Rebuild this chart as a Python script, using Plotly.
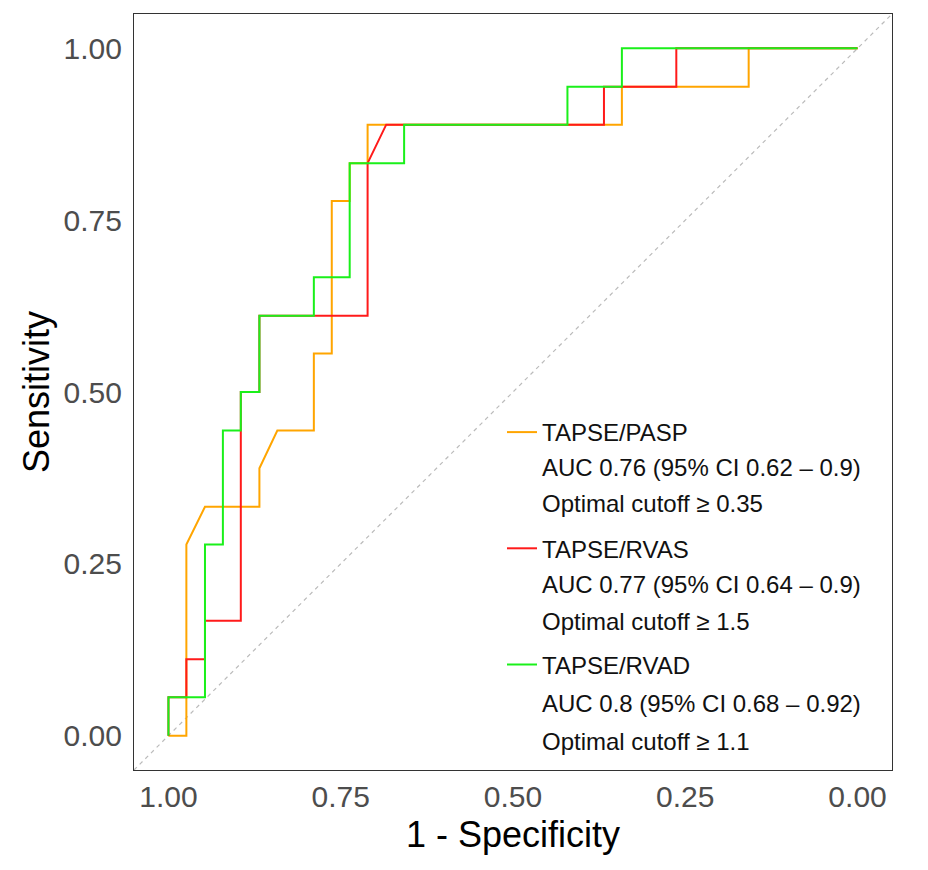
import plotly.graph_objects as go

# ---------------- data ----------------
series_names = ["TAPSE/PASP", "TAPSE/RVAS", "TAPSE/RVAD"]
series_colors = ["#FFA500", "#FF1A1A", "#1AF01A"]

spec_pasp = [1.000, 0.974, 0.974, 0.947, 0.868, 0.868, 0.842, 0.789, 0.789, 0.763,
             0.763, 0.737, 0.737, 0.711, 0.711, 0.342, 0.342, 0.158, 0.158, 0.000]
sens_pasp = [0.000, 0.000, 0.278, 0.333, 0.333, 0.389, 0.444, 0.444, 0.556, 0.556,
             0.778, 0.778, 0.833, 0.833, 0.889, 0.889, 0.944, 0.944, 1.000, 1.000]

spec_rvas = [1.000, 1.000, 0.974, 0.974, 0.947, 0.947, 0.895, 0.895, 0.868, 0.868,
             0.711, 0.711, 0.684, 0.368, 0.368, 0.263, 0.263, 0.000]
sens_rvas = [0.000, 0.056, 0.056, 0.111, 0.111, 0.167, 0.167, 0.500, 0.500, 0.611,
             0.611, 0.833, 0.889, 0.889, 0.944, 0.944, 1.000, 1.000]

spec_rvad = [1.000, 1.000, 0.947, 0.947, 0.921, 0.921, 0.895, 0.895, 0.868, 0.868,
             0.789, 0.789, 0.737, 0.737, 0.658, 0.658, 0.421, 0.421, 0.342, 0.342, 0.000]
sens_rvad = [0.000, 0.056, 0.056, 0.278, 0.278, 0.444, 0.444, 0.500, 0.500, 0.611,
             0.611, 0.667, 0.667, 0.833, 0.833, 0.889, 0.889, 0.944, 0.944, 1.000, 1.000]

auc_labels = ["AUC 0.76 (95% CI 0.62 \u2013 0.9)",
              "AUC 0.77 (95% CI 0.64 \u2013 0.9)",
              "AUC 0.8 (95% CI 0.68 \u2013 0.92)"]
cutoff_labels = ["Optimal cutoff \u2265 0.35",
                 "Optimal cutoff \u2265 1.5",
                 "Optimal cutoff \u2265 1.1"]

tick_vals = [1.00, 0.75, 0.50, 0.25, 0.00]
tick_text = ["1.00", "0.75", "0.50", "0.25", "0.00"]

# ---------------- figure ----------------
FONT = "Liberation Sans, Arial, Helvetica, sans-serif"
PAGE_OFFSET = 8                      # default body margin of the html page
W, H = 928 - PAGE_OFFSET, 870 - PAGE_OFFSET
L, R, T, B = 134 - PAGE_OFFSET, 36, 14 - PAGE_OFFSET, 100
PX0, PX1, PY0, PY1 = 134, 892, 14, 770   # plot panel in page pixels
plot_w = PX1 - PX0
plot_h = PY1 - PY0


def paper_x(px):
    return (px - PX0) / plot_w


def paper_y(py):
    return (PY1 - py) / plot_h


fig = go.Figure()

xs = [spec_pasp, spec_rvas, spec_rvad]
ys = [sens_pasp, sens_rvas, sens_rvad]
for name, color, x, y in zip(series_names, series_colors, xs, ys):
    fig.add_trace(go.Scatter(
        x=x, y=y, mode="lines", name=name, legendgroup=name,
        line=dict(color=color, width=2),
        hoverinfo="skip",
    ))

# chance diagonal (panel corner to corner)
fig.add_shape(type="line", xref="paper", yref="paper", x0=0, y0=0, x1=1, y1=1,
              line=dict(color="#BBBBBB", width=1.2, dash="4px,4px"), layer="below")

# extra legend text lines
auc_py = [467.5, 584, 703]
cut_py = [503.5, 621, 741]
for txt, py in zip(auc_labels + cutoff_labels, auc_py + cut_py):
    fig.add_annotation(x=paper_x(540), y=paper_y(py), xref="paper", yref="paper",
                       text=txt, showarrow=False, xanchor="left", yanchor="middle",
                       font=dict(family=FONT, size=24, color="#111111"))

axis_common = dict(
    showgrid=False, zeroline=False, showline=True, mirror=True,
    linecolor="#333333", linewidth=1.3, ticks="",
    tickfont=dict(family=FONT, size=30, color="#4D4D4D"),
    tickvals=tick_vals, ticktext=tick_text,
    automargin=False,
)

fig.update_layout(
    width=W, height=H,
    margin=dict(l=L, r=R, t=T, b=B),
    paper_bgcolor="white", plot_bgcolor="white",
    font=dict(family=FONT),
    xaxis=dict(range=[1.05, -0.05], ticklabelstandoff=0,
               title=dict(text="1 - Specificity", standoff=9,
                          font=dict(family=FONT, size=36, color="#000000")),
               **axis_common),
    yaxis=dict(range=[-0.05, 1.05], ticklabelstandoff=5,
               title=dict(text="Sensitivity", standoff=2,
                          font=dict(family=FONT, size=36, color="#000000")),
               **axis_common),
    showlegend=True,
    legend=dict(
        x=paper_x(502), xanchor="left",
        y=paper_y(410), yanchor="top",
        bgcolor="rgba(0,0,0,0)", borderwidth=0,
        font=dict(family=FONT, size=24, color="#111111"),
        tracegroupgap=82, traceorder="grouped",
    ),
)

fig.write_html("out.html")
